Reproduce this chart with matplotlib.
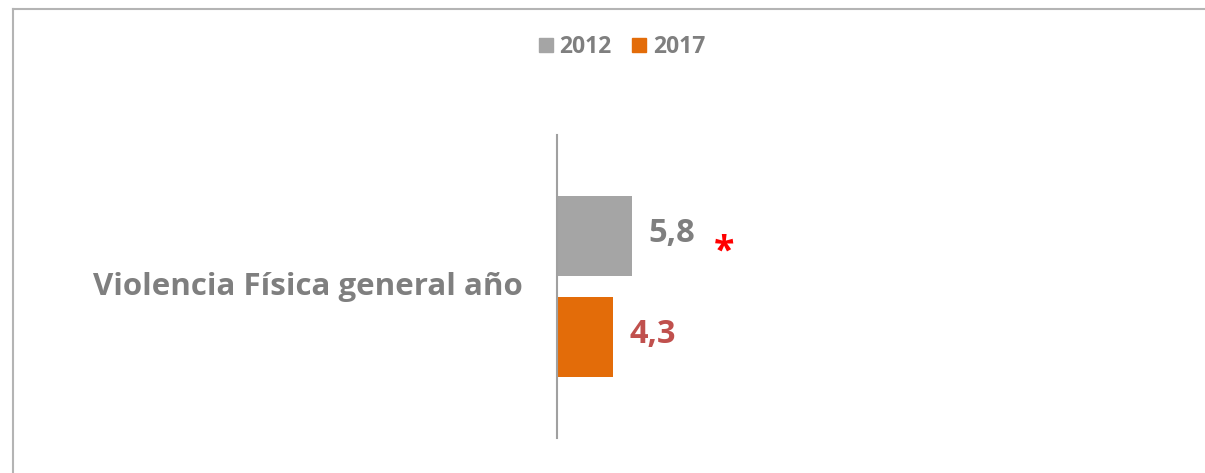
import matplotlib.pyplot as plt
from matplotlib.lines import Line2D

# data
category = "Violencia Física general año"
years = ["2012", "2017"]
values = [5.8, 4.3]
labels = ["5,8", "4,3"]
bar_colors = ["#a5a5a5", "#e36c09"]
label_colors = ["#7f7f7f", "#c0504d"]

plt.rcParams['font.family'] = ['Open Sans', 'DejaVu Sans']

W, H = 1205, 473
fig = plt.figure(figsize=(W / 100, H / 100), dpi=100)

# axes placed in pixel terms: axis line at x=557, spans y 135..438
ax = fig.add_axes([557 / W, 1 - 438 / H, (1195 - 557) / W, (438 - 135) / H])
ax.set_xlim(0, 638 / 12.95)
ax.set_ylim(-0.5, 0.5)

ypos = [0.1667, -0.168]
bars = ax.barh(ypos, values, height=0.264, color=bar_colors)

for y, v, lab, c in zip(ypos, values, labels, label_colors):
    ax.annotate(lab, (v, y), xytext=(12, 2), textcoords='offset points',
                ha='left', va='center', fontsize=23.5, fontweight='bold', color=c)

# significance mark next to 2012 value
ax.annotate("*", (values[0], ypos[0]), xytext=(66, -12), textcoords='offset points',
            ha='center', va='center', fontsize=27, fontweight='bold', color='#ff0000')

for s in ['top', 'right', 'bottom']:
    ax.spines[s].set_visible(False)
ax.spines['left'].set_color('#a0a0a0')
ax.spines['left'].set_linewidth(1.5)
ax.set_xticks([])
ax.set_yticks([])

fig.text(523 / W, 1 - 287 / H, category, ha='right', va='center',
         fontsize=22.5, fontweight='bold', color='#7f7f7f')

# legend
handles = [plt.Rectangle((0, 0), 1, 1, color=c) for c in bar_colors]
leg = fig.legend(handles, years, loc='center', bbox_to_anchor=(622 / W, 1 - 47 / H),
                 ncol=2, frameon=False, handlelength=0.6, handleheight=0.6,
                 handletextpad=0.3, columnspacing=0.9,
                 prop={'size': 16.5, 'weight': 'bold'})
for t in leg.get_texts():
    t.set_color('#7f7f7f')

# chart border
fig.add_artist(Line2D([13 / W, 1], [1 - 9 / H, 1 - 9 / H], transform=fig.transFigure,
                      color='#b4b4b4', lw=1.5))
fig.add_artist(Line2D([13 / W, 13 / W], [0, 1 - 9 / H], transform=fig.transFigure,
                      color='#b4b4b4', lw=1.5))

fig.savefig("out.png", dpi=100)
